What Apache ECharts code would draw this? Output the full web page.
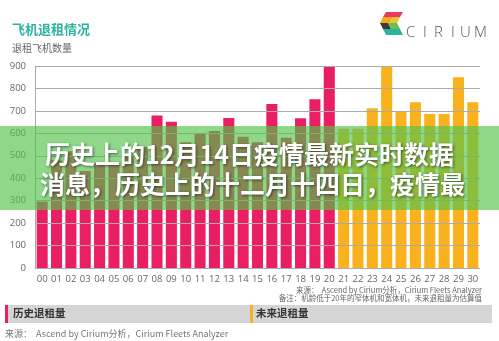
<!DOCTYPE html>
<html><head><meta charset="utf-8">
<script src="https://cdn.jsdelivr.net/npm/echarts@6/dist/echarts.min.js"></script>
<style>html,body{margin:0;padding:0;background:#fff;}#c{width:499px;height:341px;}</style>
</head><body><div id="c"></div>
<script>
const categories = ['00','01','02','03','04','05','06','07','08','09','10','11','12','13','14','15','16','17','18','19','20','21','22','23','24','25','26','27','28','29','30'];
const historyValues = [296,480,520,432,468,460,500,540,680,652,560,600,610,668,585,560,731,580,667,752,895];
const futureValues = [620,620,712,895,700,738,686,686,850,738];
const yTicks = [0,100,200,300,400,500,600,700,800,900];
const titleText = '飞机退租情况';
const subtitleText = '退租飞机数量';
const overlayLine1 = '历史上的12月14日疫情最新实时数据';
const overlayLine2 = '消息，历史上的十二月十四日，疫情最';
const legendHistory = '历史退租量';
const legendFuture = '未来退租量';
const sourceText = '来源：  Ascend by Cirium分析，Cirium Fleets Analyzer';
const noteText = '备注：机龄低于20年的窄体机和宽体机，未来退租量为估算值';
const logoText = 'CIRIUM';

const RED = '#e91e63', ORANGE = '#f9b21d';
const data = categories.map((c, i) => {
  if (i < historyValues.length) return { value: historyValues[i], itemStyle: { color: RED } };
  return { value: futureValues[i - historyValues.length], itemStyle: { color: ORANGE } };
});
const FONT = '"Noto Sans CJK SC", "Noto Sans", sans-serif';
const chart = echarts.init(document.getElementById('c'), null, { renderer: 'canvas' });

const logoLetters = logoText.split('').map((ch, i) => ({
  type: 'text', left: [406, 423, 434, 451, 460, 474][i], top: 25, z: 10,
  style: { text: ch, font: '300 15px "Open Sans", sans-serif', fill: '#555' }
}));

chart.setOption({
  animation: false,
  grid: { left: 35, right: 19, top: 66, bottom: 73, containLabel: false },
  xAxis: {
    type: 'category', data: categories,
    axisLine: { show: false }, axisTick: { show: false },
    axisLabel: { color: '#666', fontSize: 9.5, margin: 6, fontFamily: '"Open Sans", sans-serif', interval: 0 }
  },
  yAxis: {
    type: 'value', min: 0, max: 900, interval: 100, z: 3,
    axisLine: { show: true, lineStyle: { color: '#aaa', width: 1 } },
    axisTick: { show: false },
    axisLabel: { color: '#666', fontSize: 9.5, margin: 9, fontFamily: '"Open Sans", sans-serif',
      formatter: v => yTicks.includes(v) ? String(v) : '' },
    splitLine: { show: true, lineStyle: { color: '#aaa', width: 1 } }
  },
  series: [{
    type: 'bar', data: data, barCategoryGap: '23%', z: 2
  }],
  graphic: [
    { type: 'text', left: 12, top: 23, style: { text: titleText, font: 'bold 13px ' + FONT, fill: '#2db3a0' } },
    { type: 'text', left: 12, top: 43, style: { text: subtitleText, font: '10px ' + FONT, fill: '#666' } },
    // logo icon
    { type: 'polygon', z: 10, shape: { points: [[386,12],[403,12],[400,17],[383,17]] }, style: { fill: '#e63a5f' } },
    { type: 'polygon', z: 10, shape: { points: [[383,17],[393,17],[390,23],[380,23]] }, style: { fill: '#f5a623' } },
    { type: 'polygon', z: 10, shape: { points: [[393,17],[400,17],[397,23],[390,23]] }, style: { fill: '#e8c32a' } },
    { type: 'polygon', z: 10, shape: { points: [[380,23],[388,23],[391,29],[383,29]] }, style: { fill: '#3a3a3a' } },
    { type: 'polygon', z: 10, shape: { points: [[388,23],[397,23],[400,29],[391,29]] }, style: { fill: '#6bbf4e' } },
    { type: 'polygon', z: 10, shape: { points: [[383,29],[400,29],[403,35],[386,35]] }, style: { fill: '#2bb3a0' } },
    ...logoLetters,
    // overlay band
    { type: 'rect', z: 50, shape: { x: 0, y: 126, width: 499, height: 84 }, style: { fill: 'rgba(83,195,75,0.65)' } },
    { type: 'text', z: 51, left: 45, top: 142, style: { text: overlayLine1, font: 'bold 25px ' + FONT, fill: '#fff',
      textShadowColor: 'rgba(0,0,0,0.55)', textShadowBlur: 3, textShadowOffsetX: 1, textShadowOffsetY: 1 } },
    { type: 'text', z: 51, left: 40, top: 172, style: { text: overlayLine2, font: 'bold 25px ' + FONT, fill: '#fff',
      textShadowColor: 'rgba(0,0,0,0.55)', textShadowBlur: 3, textShadowOffsetX: 1, textShadowOffsetY: 1 } },
    // notes right
    { type: 'text', right: 17, top: 286, style: { text: sourceText, font: '7.5px ' + FONT, fill: '#666' } },
    { type: 'text', right: 17, top: 294, style: { text: noteText, font: '7.5px ' + FONT, fill: '#666' } },
    // legend bands
    { type: 'rect', shape: { x: 5, y: 305, width: 245, height: 18 }, style: { fill: '#d5d5d5' } },
    { type: 'rect', shape: { x: 5, y: 305, width: 3, height: 18 }, style: { fill: RED } },
    { type: 'text', left: 13, top: 308, style: { text: legendHistory, font: 'bold 10.5px ' + FONT, fill: '#333' } },
    { type: 'rect', shape: { x: 250, y: 305, width: 242, height: 18 }, style: { fill: '#d5d5d5' } },
    { type: 'rect', shape: { x: 250, y: 305, width: 3, height: 18 }, style: { fill: ORANGE } },
    { type: 'text', left: 256, top: 308, style: { text: legendFuture, font: 'bold 10.5px ' + FONT, fill: '#333' } },
    { type: 'text', left: 5, top: 329, style: { text: sourceText, font: '9px ' + FONT, fill: '#777' } }
  ]
});
</script></body></html>
